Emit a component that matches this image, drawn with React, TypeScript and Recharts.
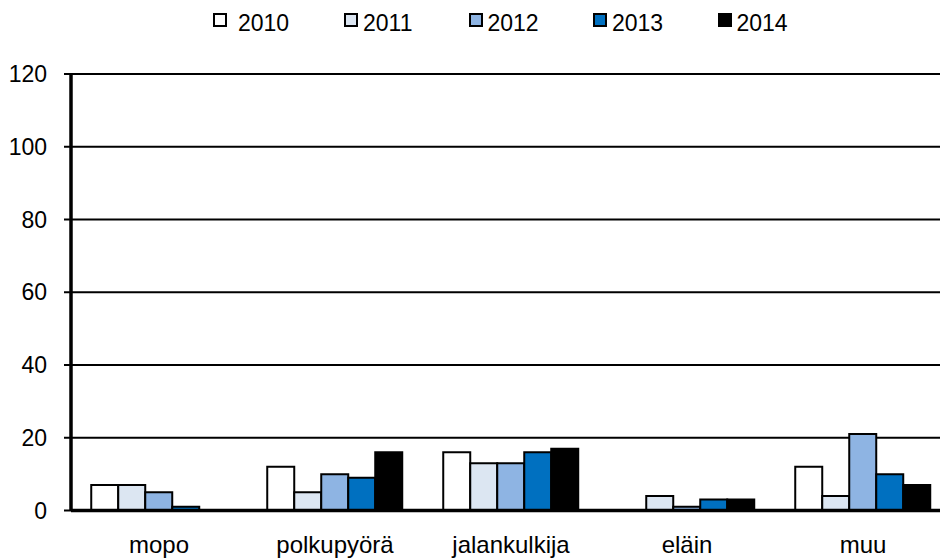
import React from "react";
import {
  BarChart,
  Bar,
  XAxis,
  YAxis,
  CartesianGrid,
} from "recharts";

const categories = ["mopo", "polkupyörä", "jalankulkija", "eläin", "muu"];
const years = ["2010", "2011", "2012", "2013", "2014"];
const colors = ["#ffffff", "#dce6f2", "#8eb4e3", "#0070c0", "#000000"];

const v2010 = [7, 12, 16, 0, 12];
const v2011 = [7, 5, 13, 4, 4];
const v2012 = [5, 10, 13, 1, 21];
const v2013 = [1, 9, 16, 3, 10];
const v2014 = [0, 16, 17, 3, 7];

const yTicks = [0, 20, 40, 60, 80, 100, 120];

const series = [v2010, v2011, v2012, v2013, v2014];

const data = categories.map((name, i) => {
  const row: Record<string, string | number> = { name };
  years.forEach((y, j) => {
    row[y] = series[j][i];
  });
  return row;
});

const font = "'Liberation Sans', Arial, sans-serif";

function TopLegend() {
  return (
    <div
      style={{
        position: "absolute",
        top: 9,
        left: 213,
        display: "flex",
        fontFamily: font,
        fontSize: 23,
        lineHeight: "28px",
        color: "#000",
      }}
    >
      {years.map((y, i) => (
        <div
          key={y}
          style={{ width: i === 0 ? 131 : 124.5, display: "flex", alignItems: "flex-start" }}
        >
          <span
            style={{
              display: "inline-block",
              boxSizing: "border-box",
              width: 14,
              height: 14,
              marginTop: 4,
              background: colors[i],
              border: "2px solid #000",
              marginRight: i === 0 ? 11 : 5,
            }}
          />
          <span>{y}</span>
        </div>
      ))}
    </div>
  );
}

export default function App() {
  return (
    <div
      style={{
        position: "absolute",
        left: 0,
        top: 0,
        width: 940,
        height: 558,
        overflow: "hidden",
        background: "#fff",
      }}
    >
      <TopLegend />
      <BarChart
        width={951}
        height={558}
        data={data}
        margin={{ top: 74, right: 0, left: 0, bottom: 0 }}
        barCategoryGap="11.5%"
        barGap={0}
      >
        <CartesianGrid vertical={false} stroke="#000" strokeWidth={2} />
        <XAxis
          dataKey="name"
          height={47.5}
          axisLine={{ stroke: "#000", strokeWidth: 3.5 }}
          tickLine={false}
          tick={{ fill: "#000", fontSize: 24, fontFamily: font, dy: 17 }}
        />
        <YAxis
          width={71}
          domain={[0, 120]}
          ticks={yTicks}
          interval={0}
          axisLine={{ stroke: "#000", strokeWidth: 3.5 }}
          tickLine={{ stroke: "#000", strokeWidth: 2 }}
          tickSize={7}
          tick={{ fill: "#000", fontSize: 23, fontFamily: font, dx: -15 }}
        />
        {years.map((y, i) => (
          <Bar
            key={y}
            dataKey={y}
            fill={colors[i]}
            stroke="#000"
            strokeWidth={2}
            isAnimationActive={false}
          />
        ))}
      </BarChart>
    </div>
  );
}
